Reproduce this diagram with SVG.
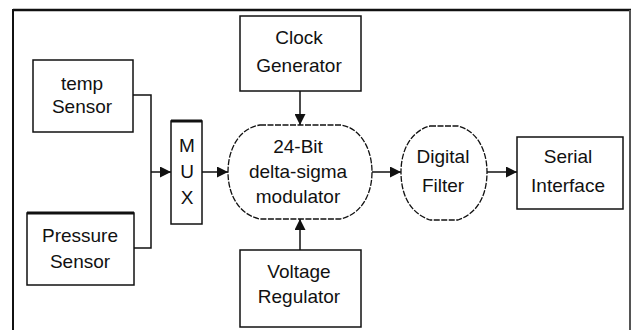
<svg xmlns="http://www.w3.org/2000/svg" width="632" height="330" viewBox="0 0 632 330">
<style>
text{font-family:"Liberation Sans",Arial,sans-serif;font-size:19px;fill:#111;text-anchor:middle}
.box{fill:#fff;stroke:#111;stroke-width:1.5}
.round{fill:#fff;stroke:#111;stroke-width:1.3;stroke-dasharray:6 1.5}
.wire{fill:none;stroke:#111;stroke-width:1.5}
</style>
<defs>
<marker id="ah" markerUnits="userSpaceOnUse" markerWidth="11" markerHeight="11" refX="11" refY="5.5" orient="auto">
<path d="M0,0 L11,5.5 L0,11 Z" fill="#111"/>
</marker>
</defs>
<rect width="632" height="330" fill="#fff"/>
<g id="frame">
<line x1="13" y1="10" x2="631" y2="10" stroke="#111" stroke-width="2.5"/>
<line x1="13" y1="9" x2="13" y2="330" stroke="#111" stroke-width="2"/>
<line x1="630" y1="10" x2="630" y2="330" stroke="#555" stroke-width="2"/>
</g>
<g id="connectors">
<polyline class="wire" points="133,95 151,95 151,248 134,248"/>
<line class="wire" x1="151" y1="172" x2="171" y2="172" marker-end="url(#ah)"/>
<line class="wire" x1="202" y1="172" x2="228" y2="172" marker-end="url(#ah)"/>
<line class="wire" x1="372" y1="172" x2="401" y2="172" marker-end="url(#ah)"/>
<line class="wire" x1="487" y1="172" x2="517" y2="172" marker-end="url(#ah)"/>
<line class="wire" x1="300" y1="91" x2="300" y2="125" marker-end="url(#ah)"/>
<line class="wire" x1="300" y1="250" x2="300" y2="219" marker-end="url(#ah)"/>
</g>
<g id="temp">
<rect class="box" x="33" y="60" width="100" height="72"/>
<text x="82" y="90">temp</text>
<text x="82" y="113">Sensor</text>
</g>
<g id="pressure">
<rect class="box" x="27" y="213" width="107" height="72"/>
<line x1="27" y1="213" x2="134" y2="213" stroke="#111" stroke-width="3"/>
<text x="80" y="242">Pressure</text>
<text x="80" y="268">Sensor</text>
</g>
<g id="mux">
<rect class="box" x="171" y="121" width="31" height="103"/>
<line x1="171" y1="121" x2="202" y2="121" stroke="#111" stroke-width="3"/>
<text x="187" y="152">M</text>
<text x="187" y="178">U</text>
<text x="187" y="204">X</text>
</g>
<g id="clock">
<rect class="box" x="240" y="16" width="121" height="75"/>
<text x="299" y="44">Clock</text>
<text x="299" y="72">Generator</text>
</g>
<g id="modulator">
<path class="round" d="M260,125 L341,125 C360,128 372,148 372,172 C372,196 360,215 340,219 L260,219 C240,215 228,196 228,172 C228,148 240,128 260,125 Z"/>
<text x="298" y="153">24-Bit</text>
<text x="298" y="178">delta-sigma</text>
<text x="298" y="203">modulator</text>
</g>
<g id="voltage">
<rect class="box" x="240" y="250" width="121" height="77"/>
<text x="299" y="278">Voltage</text>
<text x="299" y="303">Regulator</text>
</g>
<g id="filter">
<path class="round" d="M430,126 L458,126 C477,131 487,150 487,172 C487,195 478,213 458,220 L430,220 C410,213 401,195 401,172 C401,150 411,131 430,126 Z"/>
<text x="443" y="163">Digital</text>
<text x="443" y="192">Filter</text>
</g>
<g id="serial">
<rect class="box" x="517" y="137" width="106" height="72"/>
<text x="568" y="163">Serial</text>
<text x="568" y="192">Interface</text>
</g>
</svg>
